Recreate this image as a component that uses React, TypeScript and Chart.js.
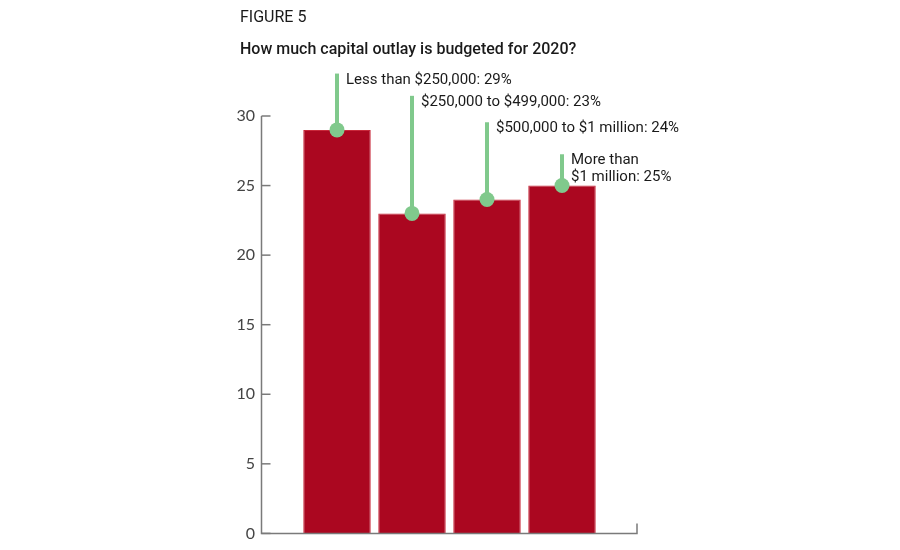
import React, { useEffect, useRef } from "react";
import { Chart, registerables } from "chart.js";

Chart.register(...registerables);

const categoryPositions = [1, 2, 3, 4];
const shares = [29, 23, 24, 25];
const calloutLines = [
  ["Less than $250,000: 29%"],
  ["$250,000 to $499,000: 23%"],
  ["$500,000 to $1 million: 24%"],
  ["More than", "$1 million: 25%"],
];
// height (in axis units) that each green leader line reaches
const leaderTops = [33.05, 31.45, 29.55, 27.25];
const yTicks = [0, 5, 10, 15, 20, 25, 30];
const figureLabel = "FIGURE 5";
const questionTitle = "How much capital outlay is budgeted for 2020?";

const BAR_RED = "#ab0720";
const GREEN = "#80c98c";
const AXIS_GREY = "#7a7a7a";

const overlayPlugin = {
  id: "overlay",
  afterDatasetsDraw(chart: any) {
    const { ctx, chartArea, scales } = chart;
    const xs = scales.x;
    const ys = scales.y;
    ctx.save();
    // titles
    ctx.fillStyle = "#1a1a1a";
    ctx.textAlign = "left";
    ctx.textBaseline = "middle";
    ctx.font = "16px Roboto";
    ctx.fillText(figureLabel, 240, 18);
    ctx.font = "500 16px Roboto";
    ctx.fillText(questionTitle, 240, 50);
    // axes
    ctx.strokeStyle = AXIS_GREY;
    ctx.lineWidth = 1.5;
    ctx.beginPath();
    ctx.moveTo(chartArea.left - 0.5, ys.getPixelForValue(30));
    ctx.lineTo(chartArea.left - 0.5, chartArea.bottom);
    ctx.lineTo(chartArea.right, chartArea.bottom);
    ctx.lineTo(chartArea.right, chartArea.bottom - 10);
    ctx.stroke();
    yTicks.forEach((t) => {
      const py = ys.getPixelForValue(t);
      ctx.beginPath();
      ctx.moveTo(chartArea.left - 0.5, py);
      ctx.lineTo(chartArea.left + 8.5, py);
      ctx.stroke();
    });
    // leaders
    categoryPositions.forEach((cx, i) => {
      const px = xs.getPixelForValue(cx);
      const pv = ys.getPixelForValue(shares[i]);
      const pt = ys.getPixelForValue(leaderTops[i]);
      ctx.strokeStyle = GREEN;
      ctx.lineWidth = 4;
      ctx.beginPath();
      ctx.moveTo(px, pv);
      ctx.lineTo(px, pt);
      ctx.stroke();
      ctx.fillStyle = GREEN;
      ctx.beginPath();
      ctx.arc(px, pv, 7.5, 0, Math.PI * 2);
      ctx.fill();
      ctx.fillStyle = "#1a1a1a";
      ctx.font = "15px Roboto";
      ctx.textBaseline = "alphabetic";
      ctx.textAlign = "left";
      calloutLines[i].forEach((line, j) => {
        ctx.fillText(line, px + 9, pt + 10 + j * 17);
      });
    });
    ctx.restore();
  },
};

export default function App() {
  const ref = useRef<HTMLCanvasElement | null>(null);
  useEffect(() => {
    if (!ref.current) return;
    const chart = new Chart(ref.current, {
      type: "bar",
      data: {
        datasets: [
          {
            data: categoryPositions.map((x, i) => ({ x, y: shares[i] })),
            backgroundColor: BAR_RED,
            borderColor: "#c8283a",
            borderWidth: 1,
            barPercentage: 0.9,
            categoryPercentage: 1,
          },
        ],
      },
      options: {
        animation: false,
        responsive: false,
        layout: { padding: { left: 220, right: 263, top: 116, bottom: 16 } },
        plugins: {
          legend: { display: false },
          tooltip: { enabled: false },
        },
        scales: {
          x: { type: "linear", min: 0, max: 5, offset: false, display: false },
          y: {
            min: 0,
            max: 30,
            afterFit: (scale: any) => {
              scale.width = 42;
            },
            ticks: {
              stepSize: 5,
              padding: 7,
              color: "#444",
              font: { family: "Lato", size: 16 },
            },
            grid: { display: false, drawTicks: false },
            border: { display: false },
          },
        },
      },
      plugins: [overlayPlugin],
    });
    return () => chart.destroy();
  }, []);
  return (
    <div style={{ position: "fixed", left: 0, top: 0, width: 900, height: 550, background: "#fff" }}>
      <canvas ref={ref} width={900} height={550} />
    </div>
  );
}
